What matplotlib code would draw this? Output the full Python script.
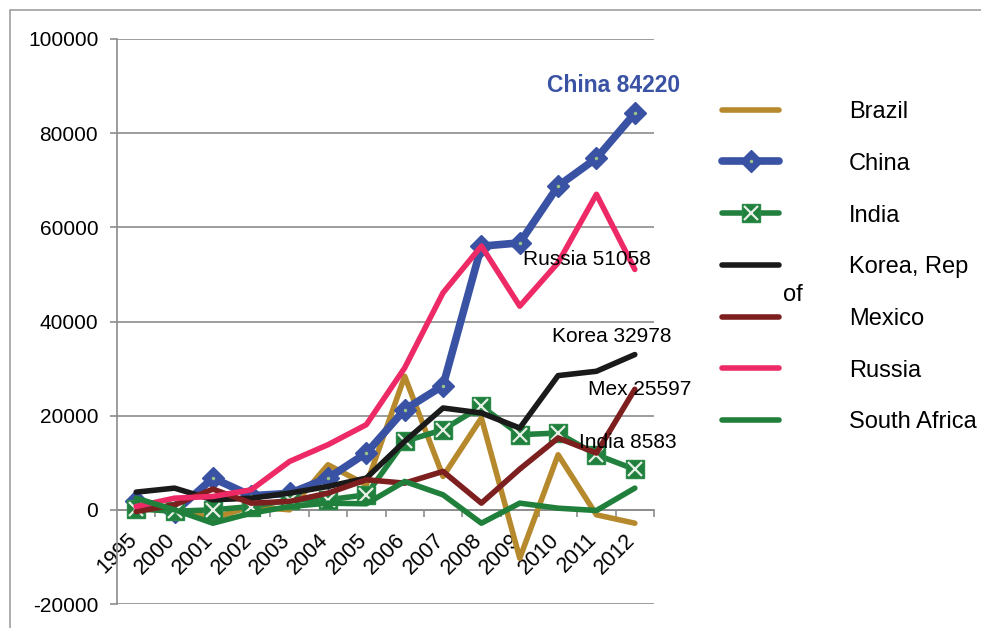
import matplotlib
matplotlib.use("Agg")
import matplotlib.pyplot as plt
from matplotlib.legend_handler import HandlerTuple
from matplotlib.patches import Rectangle
from matplotlib.transforms import ScaledTranslation

plt.rcParams["font.family"] = ["Liberation Sans", "DejaVu Sans"]
plt.rcParams["axes.unicode_minus"] = False

years = ["1995", "2000", "2001", "2002", "2003", "2004", "2005",
         "2006", "2007", "2008", "2009", "2010", "2011", "2012"]

brazil = [1500, 0, -1770, 700, 0, 9570, 5320, 28370, 7090, 19500, -10280, 11700, -1060, -2840]
china = [1800, -500, 6740, 3000, 3500, 6740, 12060, 21280, 26380, 56000, 56700, 68790, 74680, 84220]
india = [200, -300, 0, 700, 2100, 2130, 3190, 14540, 17020, 21990, 15960, 16310, 11700, 8583]
korea = [3760, 4610, 2130, 2480, 3550, 4960, 6740, 14540, 21630, 20570, 17380, 28510, 29430, 32978]
mexico = [-350, 1060, 4400, 1420, 1770, 3550, 6380, 5670, 8160, 1420, 8650, 15250, 12060, 25597]
russia = [710, 2480, 2840, 4255, 10280, 13830, 18090, 30150, 46100, 56030, 43260, 52500, 67020, 51058]
south_africa = [2480, 0, -2840, -700, 700, 1420, 1280, 6030, 3190, -2840, 1420, 350, -140, 4610]

c_brazil = "#B5892C"
c_china = "#3A52A3"
c_india = "#22803F"
c_korea = "#1A1A1A"
c_mexico = "#7D1E1F"
c_russia = "#EE2A66"
c_sa = "#1F7F3B"
grid_c = "#8C8C8C"

fig = plt.figure(figsize=(9.81, 6.28), dpi=100)
W, H = 981, 628
ax = fig.add_axes([117 / W, (H - 604) / H, (654 - 117) / W, (604 - 39) / H])

x = list(range(len(years)))
lw = 4.0

l_brazil, = ax.plot(x, brazil, color=c_brazil, lw=lw, solid_capstyle="round", zorder=3)
l_china, = ax.plot(x, china, color=c_china, lw=5.5, marker="D", markersize=11,
                   markeredgecolor=c_china, solid_capstyle="round", zorder=4)
d_china, = ax.plot(x, china, ls="none", marker="o", markersize=2.5,
                   color="#9CC48A", markeredgewidth=0, zorder=4.1)
l_india, = ax.plot(x, india, color=c_india, lw=lw, marker="s", markersize=13,
                   markeredgecolor="#2A8A48", solid_capstyle="round", zorder=5)
x_india, = ax.plot(x, india, ls="none", marker="x", markersize=10,
                   markeredgewidth=1.6, color="#E6F0E6", zorder=5.1)
l_korea, = ax.plot(x, korea, color=c_korea, lw=lw, solid_capstyle="round", zorder=6)
l_mexico, = ax.plot(x, mexico, color=c_mexico, lw=lw, solid_capstyle="round", zorder=7)
l_russia, = ax.plot(x, russia, color=c_russia, lw=lw, solid_capstyle="round", zorder=8)
l_sa, = ax.plot(x, south_africa, color=c_sa, lw=lw, solid_capstyle="round", zorder=9)

# axes look
ax.set_xlim(-0.5, len(years) - 0.5)
ax.set_ylim(-20000, 100000)
ax.set_yticks(range(-20000, 100001, 20000))
ax.grid(axis="y", color=grid_c, lw=1.2)
ax.set_axisbelow(True)
for s in ["top", "right"]:
    ax.spines[s].set_visible(False)
ax.spines["left"].set_color(grid_c)
ax.spines["left"].set_linewidth(1.2)
ax.spines["bottom"].set_position(("data", 0))
ax.spines["bottom"].set_color(grid_c)
ax.spines["bottom"].set_linewidth(1.2)
ax.spines["bottom"].set_zorder(0.5)

ax.tick_params(axis="y", length=5, width=1.2, color=grid_c, pad=8.5, labelsize=15)
ax.set_xticks(x)
ax.set_xticklabels(years, rotation=45, ha="right", va="top", fontsize=15.5)
ax.tick_params(axis="x", which="major", length=0, pad=14)
ax.set_xticks([i - 0.5 for i in range(1, len(years) + 1)], minor=True)
ax.tick_params(axis="x", which="minor", length=5, width=1.2, color=grid_c, direction="out")
off = ScaledTranslation(5 / 100, 0, fig.dpi_scale_trans)
for lab in ax.get_xticklabels():
    lab.set_transform(lab.get_transform() + off)

# end labels
ax.text(10.71, 90200, "China 84220", color=c_china, fontsize=16.5,
        fontweight="bold", ha="left", va="center")
ax.text(10.09, 53190, "Russia 51058", fontsize=15, ha="left", va="center", zorder=10)
ax.text(10.84, 36870, "Korea 32978", fontsize=15, ha="left", va="center", zorder=10)
ax.text(11.78, 25530, "Mex 25597", fontsize=15, ha="left", va="center", zorder=10)
ax.text(11.55, 14260, "India 8583", fontsize=15, ha="left", va="center", zorder=10)

# legend
handles = [l_brazil, (l_china, d_china), (l_india, x_india), l_korea, l_mexico, l_russia, l_sa]
labels = ["Brazil", "China", "India", "Korea, Rep", "Mexico", "Russia", "South Africa"]
fig.legend(handles, labels, loc="upper left", bbox_to_anchor=(722 / W, 1 - 101 / H),
           frameon=False, fontsize=17, borderpad=0, borderaxespad=0,
           handlelength=2.42, handletextpad=2.95, labelspacing=1.26,
           handler_map={tuple: HandlerTuple(ndivide=1)})
fig.text(783 / W, 1 - 295 / H, "of", fontsize=17, ha="left", va="center")

# outer frame
fig.patches.append(Rectangle((10 / W, -0.1), 1.2, 1 - 10 / H + 0.1, transform=fig.transFigure,
                             fill=False, edgecolor="#A0A0A0", lw=1.2))

fig.savefig("out.png", dpi=100)
